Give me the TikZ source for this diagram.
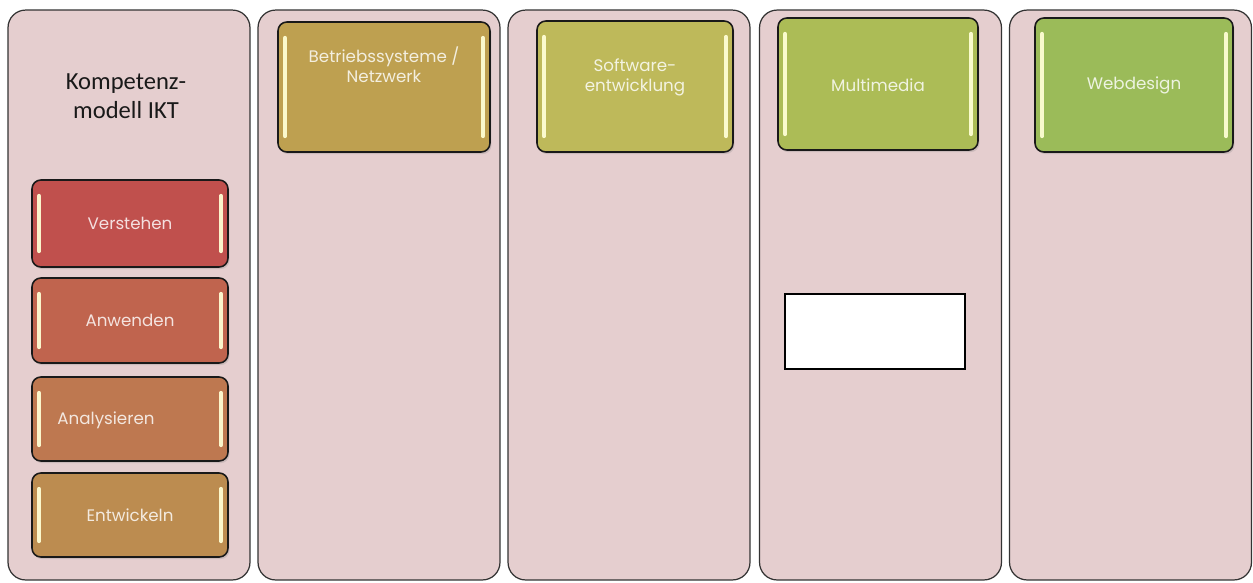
\documentclass[tikz,border=0pt]{standalone}
\usepackage{fontspec}
\setmainfont{Poppins}
\newfontfamily\kopfschrift{Carlito}
\usepackage{tikz}
\usetikzlibrary{shadows}

\definecolor{rosa}{HTML}{E5CECF}
\definecolor{verstehen}{HTML}{C0504D}
\definecolor{anwenden}{HTML}{C0644E}
\definecolor{analysieren}{HTML}{BE7850}
\definecolor{entwickeln}{HTML}{BC8C50}
\definecolor{betrieb}{HTML}{BEA050}
\definecolor{software}{HTML}{BEB95A}
\definecolor{multimedia}{HTML}{ACBC56}
\definecolor{webdesign}{HTML}{9BBB59}

\begin{document}
\begin{tikzpicture}[x=0.02cm,y=-0.02cm,
spalte/.style={rectangle,rounded corners=10pt,draw=black!80,line width=0.7pt,
fill=rosa,minimum width=4.84cm,minimum height=11.4cm,inner sep=0pt},
glanz/.style={path picture={
\draw[line width=2.2pt,line cap=round,#1]
([xshift=4pt,yshift=9pt]path picture bounding box.south west) --
([xshift=4pt,yshift=-9pt]path picture bounding box.north west);
\draw[line width=2.2pt,line cap=round,#1]
([xshift=-4pt,yshift=9pt]path picture bounding box.south east) --
([xshift=-4pt,yshift=-9pt]path picture bounding box.north east);}},
kachel/.style={rectangle,rounded corners=5pt,draw=black!90,line width=0.9pt,
fill=#1,inner sep=0pt,glanz=#1!30!yellow!22!white,
drop shadow={opacity=0.25,shadow xshift=0.8pt,shadow yshift=-1.2pt}},
aufschrift/.style={text=#1!18!white,align=center,
font=\fontsize{9.5}{11.5}\selectfont}]

\useasboundingbox (0,0) rectangle (1253,582);

% Spalten
\node (Stufen) [spalte] at (129,295) {};
\node (Betriebssysteme) [spalte] at (379,295) {};
\node (Software) [spalte] at (629,295) {};
\node (Multimedia) [spalte] at (880.5,295) {};
\node (Webdesign) [spalte] at (1130.5,295) {};

\node (Titel) [align=center,text=black!90,font=\kopfschrift\fontsize{14}{16.5}\selectfont]
at (126,96) {Kompetenz-\\modell IKT};

% Kompetenzstufen
\node (Verstehen) [kachel=verstehen,minimum width=3.92cm,minimum height=1.74cm]
at (130,223.5) {};
\node [aufschrift=verstehen] at (Verstehen) {Verstehen};
\node (Anwenden) [kachel=anwenden,minimum width=3.92cm,minimum height=1.7cm]
at (130,320.5) {};
\node [aufschrift=anwenden] at (Anwenden) {Anwenden};
\node (Analysieren) [kachel=analysieren,minimum width=3.92cm,minimum height=1.68cm]
at (130,419) {};
\node [aufschrift=analysieren] at (106,420) {Analysieren};
\node (Entwickeln) [kachel=entwickeln,minimum width=3.92cm,minimum height=1.68cm]
at (130,515) {};
\node [aufschrift=entwickeln] at (Entwickeln) {Entwickeln};

% Themenbereiche
\node (BS) [kachel=betrieb,minimum width=4.24cm,minimum height=2.6cm]
at (384,87) {};
\node [aufschrift=betrieb] at (384,65) {Betriebssysteme /\\Netzwerk};
\node (SW) [kachel=software,minimum width=3.92cm,minimum height=2.62cm]
at (635,86.5) {};
\node [aufschrift=software] at (635,77) {Software-\\entwicklung};
\node (MM) [kachel=multimedia,minimum width=4cm,minimum height=2.64cm]
at (878,84) {};
\node [aufschrift=multimedia] at (878,85) {Multimedia};
\node (WD) [kachel=webdesign,minimum width=3.96cm,minimum height=2.68cm]
at (1134,85) {};
\node [aufschrift=webdesign] at (1134,85) {Webdesign};

\node (Leer) [rectangle,draw=black,line width=0.9pt,fill=white,
minimum width=3.6cm,minimum height=1.5cm] at (875,331.5) {};

\end{tikzpicture}
\end{document}
